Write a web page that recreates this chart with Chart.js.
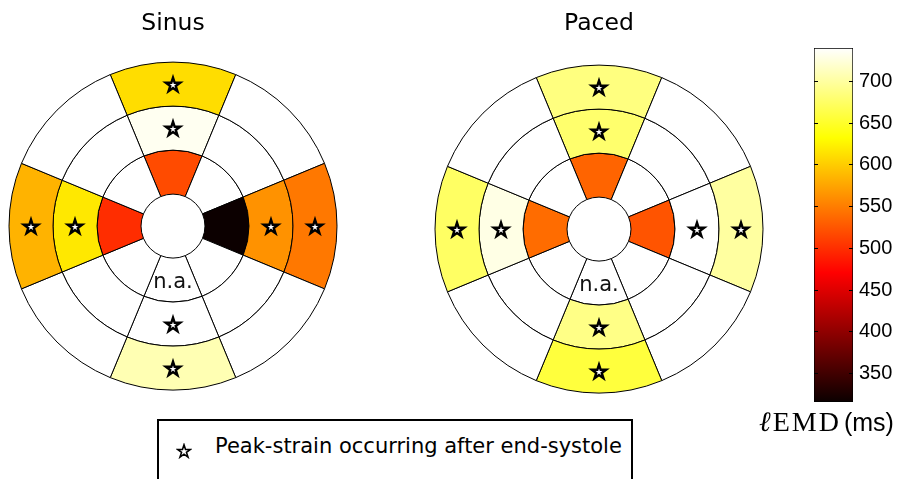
<!DOCTYPE html>
<html>
<head>
<meta charset="utf-8">
<script src="https://cdn.jsdelivr.net/npm/chart.js@4.4.0/dist/chart.umd.min.js"></script>
<style>
  body { margin: 0; background: #fff; }
  #page { position: relative; width: 898px; height: 479px; overflow: hidden; background: #fff; }
  canvas { position: absolute; }
  #sinus { left: 0; top: 0; }
  #paced { left: 426px; top: 0; }
  #colorbar { left: 790px; top: 30px; }
  #cbLabel { position: absolute; left: 759px; top: 406px; white-space: nowrap; color: #000; }
  #cbLabel .sym { font-family: "Liberation Serif", serif; font-size: 28px; letter-spacing: 2px; }
  #cbLabel .unit { font-family: "Liberation Sans", sans-serif; font-size: 25px; margin-left: 3px; }
  #legend {
    position: absolute; left: 157px; top: 419px; width: 472px; height: 80px;
    border: 2px solid #000; background: #fff;
  }
  #legend svg { position: absolute; left: 17px; top: 22px; }
  #legend span {
    position: absolute; left: 56px; top: 13px; white-space: nowrap;
    font-family: "DejaVu Sans", sans-serif; font-size: 21px; color: #000;
  }
</style>
</head>
<body>
<div id="page">
  <canvas id="sinus" width="346" height="408"></canvas>
  <canvas id="paced" width="346" height="414"></canvas>
  <canvas id="colorbar" width="108" height="390"></canvas>
  <div id="cbLabel"><span class="sym"><i>ℓ</i>EMD</span><span class="unit">(ms)</span></div>
  <div id="legend">
    <svg width="16" height="16" viewBox="-8 -8 16 16">
      <polygon id="legendStar" fill="#fff" stroke="#000" stroke-width="1.6" stroke-linejoin="miter"></polygon>
    </svg>
    <span>Peak-strain occurring after end-systole</span>
  </div>
</div>
<script>
/* Sectores (en sentido horario desde arriba) y anillos (de fuera hacia dentro). */
const sectors = ["Anterior", "Anterolateral", "Lateral", "Inferolateral", "Inferior", "Inferoseptal", "Septal", "Anteroseptal"];
const rings = ["Outer", "Middle", "Inner"];

/* lEMD (ms) por segmento; null = sin dato (blanco). */
const sinusOuter = [611, null, 547, null, 708, null, 584, null];
const sinusMiddle = [734, null, 563, null, 740, null, 618, null];
const sinusInner = [518, null, 317, null, null, null, 499, null];

const pacedOuter = [686, null, 700, null, 658, null, 674, null];
const pacedMiddle = [678, null, 740, null, 689, null, 729, null];
const pacedInner = [534, null, 524, null, null, null, 539, null];

/* Pico de strain despues de fin de sistole (1 = estrella). */
const starsOuter = [1, 0, 1, 0, 1, 0, 1, 0];
const starsMiddle = [1, 0, 1, 0, 1, 0, 1, 0];
const starsInner = [0, 0, 0, 0, 0, 0, 0, 0];
const naInner = [0, 0, 0, 0, 1, 0, 0, 0];

/* Escala de color. */
const cbMin = 316;
const cbMax = 740;
const cbTicks = [350, 400, 450, 500, 550, 600, 650, 700];

/**
 * Mapa de color "hot" (igual que matplotlib).
 * @param t - posicion 0..1 en la escala
 * @returns color rgb en texto
 */
const hotAt = (t) => {
  const r = t < 0.365079 ? 0.0416 + (1 - 0.0416) * t / 0.365079 : 1;
  const g = t < 0.365079 ? 0 : t < 0.746032 ? (t - 0.365079) / (0.746032 - 0.365079) : 1;
  const b = t < 0.746032 ? 0 : (t - 0.746032) / (1 - 0.746032);
  return `rgb(${Math.round(r * 255)}, ${Math.round(g * 255)}, ${Math.round(b * 255)})`;
};
const hot = (v) => {
  if (v === null) return "#ffffff";
  const t = Math.min(Math.max((v - cbMin) / (cbMax - cbMin), 0), 1);
  return hotAt(t);
};

const starPoints = (x, y, r) => {
  const pts = [];
  for (let k = 0; k < 10; k++) {
    const rad = k % 2 === 0 ? r : r * 0.382;
    const a = -Math.PI / 2 + (k * Math.PI) / 5;
    pts.push([x + rad * Math.cos(a), y + rad * Math.sin(a)]);
  }
  return pts;
};

const drawStar = (ctx, x, y, r, lw) => {
  ctx.save();
  ctx.beginPath();
  starPoints(x, y, r).forEach(([px, py], k) => (k === 0 ? ctx.moveTo(px, py) : ctx.lineTo(px, py)));
  ctx.closePath();
  ctx.fillStyle = "#fff";
  ctx.fill();
  ctx.lineWidth = lw;
  ctx.lineJoin = "miter";
  ctx.strokeStyle = "#000";
  ctx.stroke();
  ctx.restore();
};

/* Dibuja estrellas y "n.a." en el centro de cada segmento. */
const bullseyeMarks = {
  id: "bullseyeMarks",
  afterDatasetsDraw(chart) {
    const { ctx } = chart;
    chart.data.datasets.forEach((ds, d) => {
      chart.getDatasetMeta(d).data.forEach((arc, i) => {
        const p = arc.tooltipPosition();
        if (ds.stars[i]) drawStar(ctx, p.x, p.y + 1, 7.5, 2.4);
        if (ds.na[i]) {
          ctx.save();
          ctx.fillStyle = "#111";
          ctx.font = "21px 'DejaVu Sans'";
          ctx.textAlign = "center";
          ctx.textBaseline = "middle";
          ctx.fillText("n.a.", p.x, p.y + 2);
          ctx.restore();
        }
      });
    });
  },
};

const makeBullseye = (id, title, values) =>
  new Chart(document.getElementById(id), {
    type: "doughnut",
    data: {
      labels: sectors,
      datasets: values.map((vals, r) => ({
        label: rings[r],
        data: sectors.map(() => 1),
        stars: [starsOuter, starsMiddle, starsInner][r],
        na: r === 2 ? naInner : sectors.map(() => 0),
        backgroundColor: vals.map(hot),
        borderColor: "#000",
        borderWidth: 1,
        hoverOffset: 0,
      })),
    },
    options: {
      responsive: false,
      animation: false,
      events: [],
      rotation: -22.5,
      radius: 164,
      cutout: "19.5%",
      plugins: {
        legend: { display: false },
        tooltip: { enabled: false },
        title: {
          display: true,
          text: title,
          color: "#000",
          font: { family: "DejaVu Sans", size: 23.5, weight: "normal" },
          padding: { top: 10, bottom: 6 },
        },
      },
    },
    plugins: [bullseyeMarks],
  });

makeBullseye("sinus", "Sinus", [sinusOuter, sinusMiddle, sinusInner]);
makeBullseye("paced", "Paced", [pacedOuter, pacedMiddle, pacedInner]);

/* Barra de color. */
new Chart(document.getElementById("colorbar"), {
  type: "bar",
  data: {
    labels: [""],
    datasets: [
      {
        data: [[cbMin, cbMax]],
        backgroundColor: (c) => {
          const y = c.chart.scales.y;
          if (!c.chart.chartArea || !y) return "#000";
          const g = c.chart.ctx.createLinearGradient(0, y.getPixelForValue(cbMin), 0, y.getPixelForValue(cbMax));
          [0, 0.365079, 0.746032, 1].forEach((t) => g.addColorStop(t, hotAt(t)));
          return g;
        },
        borderColor: "#000",
        borderWidth: 1,
        borderSkipped: false,
        categoryPercentage: 1,
        barPercentage: 1,
      },
    ],
  },
  options: {
    responsive: false,
    animation: false,
    events: [],
    layout: { padding: { left: 24, right: 0, top: 14, bottom: 18 } },
    plugins: { legend: { display: false }, tooltip: { enabled: false } },
    scales: {
      x: { display: false },
      y: {
        position: "right",
        min: cbMin,
        max: cbMax,
        afterBuildTicks: (s) => {
          s.ticks = cbTicks.map((v) => ({ value: v }));
        },
        afterFit: (s) => {
          s.width = 45;
        },
        grid: { drawTicks: false, color: "#000", lineWidth: 1, z: 1 },
        border: { display: false, dash: [4, 31] },
        ticks: {
          padding: 6,
          color: "#000",
          font: { family: "Liberation Sans", size: 20 },
        },
      },
    },
  },
});

document.getElementById("legendStar").setAttribute("points", starPoints(0, 0.6, 6.8).map((p) => p.join(",")).join(" "));
</script>
</body>
</html>
